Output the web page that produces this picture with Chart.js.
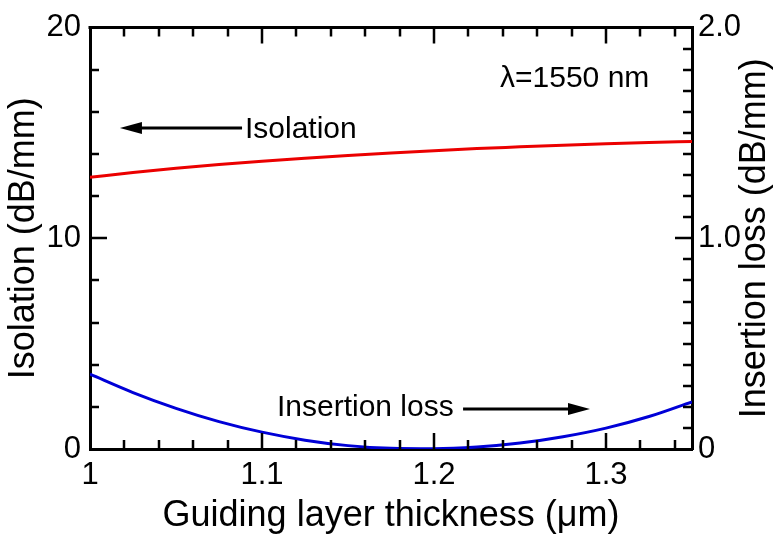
<!DOCTYPE html>
<html><head><meta charset="utf-8">
<script src="https://cdn.jsdelivr.net/npm/chart.js@4"></script>
<style>html,body{margin:0;padding:0;background:#fff;}</style>
</head><body>
<canvas id="c" width="779" height="536"></canvas>
<script>
// ---- data ----
const thickness = [1.000, 1.025, 1.050, 1.075, 1.100, 1.125, 1.150, 1.175, 1.200, 1.225, 1.250, 1.275, 1.300, 1.325, 1.350];
const isolation = [12.9, 13.12, 13.32, 13.5, 13.66, 13.8, 13.93, 14.05, 14.16, 14.26, 14.34, 14.42, 14.49, 14.55, 14.6];
const insertionLoss = [0.355, 0.268, 0.193, 0.130, 0.080, 0.042, 0.016, 0.003, 0.001, 0.009, 0.028, 0.058, 0.099, 0.154, 0.224];
const xTickValues = [1, 1.1, 1.2, 1.3];
const xTickLabels = ['1', '1.1', '1.2', '1.3'];
const leftTickValues = [0, 10, 20];
const leftTickLabels = ['0', '10', '20'];
const rightTickValues = [0, 1, 2];
const rightTickLabels = ['0', '1.0', '2.0'];
const xTitle = 'Guiding layer thickness (\u03bcm)';
const leftTitle = 'Isolation (dB/mm)';
const rightTitle = 'Insertion loss (dB/mm)';
const noteWavelength = '\u03bb=1550 nm';
const noteIsolation = 'Isolation';
const noteLoss = 'Insertion loss';

const FONT = "'Liberation Sans', Arial, sans-serif";

const decor = {
  id: 'decor',
  afterDraw(chart) {
    const {ctx, chartArea: a, scales: {x, y, y2}} = chart;
    ctx.save();
    ctx.strokeStyle = '#000';
    ctx.fillStyle = '#000';
    // top frame
    ctx.lineWidth = 3;
    ctx.beginPath(); ctx.moveTo(a.left - 1.5, a.top); ctx.lineTo(a.right + 1.5, a.top); ctx.stroke();
    // inward ticks
    ctx.lineWidth = 2.5;
    ctx.beginPath();
    for (let i = 1; i <= 17; i++) {
      const px = Math.round(x.getPixelForValue(1 + i * 0.02));
      const L = (i % 5 === 0) ? 16 : 9;
      ctx.moveTo(px, a.bottom); ctx.lineTo(px, a.bottom - L);
      ctx.moveTo(px, a.top); ctx.lineTo(px, a.top + L);
    }
    for (let i = 1; i <= 9; i++) {
      const py = Math.round(y.getPixelForValue(i * 2));
      const L = (i === 5) ? 17 : 9;
      ctx.moveTo(a.left, py); ctx.lineTo(a.left + L, py);
    }
    for (let i = 1; i <= 19; i++) {
      const py = Math.round(y2.getPixelForValue(i * 0.1));
      const L = (i === 10) ? 17 : 9;
      ctx.moveTo(a.right, py); ctx.lineTo(a.right - L, py);
    }
    ctx.stroke();

    // right axis title (reads bottom-to-top)
    ctx.save();
    ctx.font = '36px ' + FONT;
    ctx.textAlign = 'center';
    ctx.textBaseline = 'middle';
    ctx.translate(755, (a.top + a.bottom) / 2);
    ctx.rotate(-Math.PI / 2);
    ctx.fillText(rightTitle, 0, 0);
    ctx.restore();

    // annotations
    ctx.font = '30px ' + FONT;
    ctx.textAlign = 'left';
    ctx.textBaseline = 'alphabetic';
    ctx.fillText(noteWavelength, x.getPixelForValue(1.2384), y.getPixelForValue(17.2));
    ctx.fillText(noteIsolation, x.getPixelForValue(1.0901), y.getPixelForValue(14.78));
    ctx.fillText(noteLoss, x.getPixelForValue(1.1087), y.getPixelForValue(1.585));

    function arrow(x0, x1, py) {
      const dir = Math.sign(x1 - x0);
      const head = 22, hw = 6;
      ctx.lineWidth = 3;
      ctx.beginPath(); ctx.moveTo(x0, py); ctx.lineTo(x1 - dir * head * 0.8, py); ctx.stroke();
      ctx.beginPath();
      ctx.moveTo(x1, py);
      ctx.lineTo(x1 - dir * head, py - hw);
      ctx.lineTo(x1 - dir * head, py + hw);
      ctx.closePath(); ctx.fill();
    }
    arrow(x.getPixelForValue(1.0884), x.getPixelForValue(1.0174), Math.round(y.getPixelForValue(15.24)));
    arrow(x.getPixelForValue(1.2169), x.getPixelForValue(1.2907), Math.round(y.getPixelForValue(1.91)));
    ctx.restore();
  }
};

new Chart(document.getElementById('c'), {
  type: 'line',
  data: {
    datasets: [
      {
        label: 'Isolation',
        data: thickness.map((t, i) => ({x: t, y: isolation[i]})),
        yAxisID: 'y',
        borderColor: 'rgb(235,0,0)',
        borderWidth: 3,
        pointRadius: 0,
        cubicInterpolationMode: 'monotone',
        fill: false
      },
      {
        label: 'Insertion loss',
        data: thickness.map((t, i) => ({x: t, y: insertionLoss[i]})),
        yAxisID: 'y2',
        borderColor: 'rgb(0,0,215)',
        borderWidth: 3,
        pointRadius: 0,
        cubicInterpolationMode: 'monotone',
        fill: false
      }
    ]
  },
  options: {
    responsive: false,
    animation: false,
    devicePixelRatio: 1,
    layout: {padding: {top: 20, left: 0, right: 0, bottom: 0}},
    plugins: {legend: {display: false}, tooltip: {enabled: false}},
    scales: {
      x: {
        type: 'linear', position: 'bottom', min: 1, max: 1.35,
        afterBuildTicks: s => { s.ticks = xTickValues.map(v => ({value: v})); },
        afterFit: s => { s.height = 87; },
        grid: {display: false, drawTicks: false},
        border: {display: true, color: '#000', width: 3},
        ticks: {color: '#000', font: {family: FONT, size: 31}, padding: 8, maxRotation: 0, autoSkip: false,
                callback: (v, i) => xTickLabels[i]},
        title: {display: true, text: xTitle, color: '#000', font: {family: FONT, size: 36, lineHeight: 1}, padding: {top: 0, bottom: 1.5}}
      },
      y: {
        type: 'linear', position: 'left', min: 0, max: 20,
        afterBuildTicks: s => { s.ticks = leftTickValues.map(v => ({value: v})); },
        afterFit: s => { s.width = 90; },
        grid: {display: false, drawTicks: false},
        border: {display: true, color: '#000', width: 3},
        ticks: {color: '#000', font: {family: FONT, size: 31}, padding: 9, autoSkip: false,
                callback: (v, i) => leftTickLabels[i]},
        title: {display: true, text: leftTitle, color: '#000', font: {family: FONT, size: 36, lineHeight: 1}, padding: {top: 6, bottom: 0}}
      },
      y2: {
        type: 'linear', position: 'right', min: 0, max: 2,
        afterBuildTicks: s => { s.ticks = rightTickValues.map(v => ({value: v})); },
        afterFit: s => { s.width = 87; },
        grid: {display: false, drawTicks: false},
        border: {display: true, color: '#000', width: 3},
        ticks: {color: '#000', font: {family: FONT, size: 31}, padding: 6, autoSkip: false,
                callback: (v, i) => rightTickLabels[i]}
      }
    }
  },
  plugins: [decor]
});
</script>
</body></html>
